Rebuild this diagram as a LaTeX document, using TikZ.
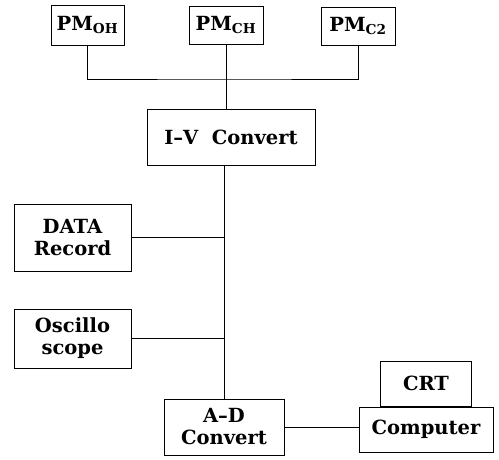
\documentclass[tikz,border=0pt]{standalone}
\usepackage{fontspec}
\setmainfont{DejaVu Serif}
\usetikzlibrary{positioning}

\tikzset{
  blk/.style={draw, line width=1pt, inner sep=0pt, align=center,
    font=\fontsize{19.5}{22}\selectfont\bfseries},
  wire/.style={line width=1pt}
}

\begin{document}
\begin{tikzpicture}[x=1pt, y=-1pt, on grid, node distance=100pt]
    \useasboundingbox (0,0) rectangle (499,459);

    \node[blk, minimum width=74pt, minimum height=38pt] (pmch) at (226,25) {PM\textsubscript{CH}};
    \node[blk, minimum width=73pt, minimum height=40pt] (pmoh) [left=138.5pt of pmch] {PM\textsubscript{OH}};
    \node[blk, minimum width=74pt, minimum height=38pt] (pmc2) [right=132pt of pmch, yshift=-1pt] {PM\textsubscript{C2}};

    \node[blk, minimum width=168pt, minimum height=56pt] (iv) at (231,137) {I--V\ \ Convert};
    \node[blk, minimum width=117pt, minimum height=67pt] (rec) at (72.5,237.5) {DATA\\Record};
    \node[blk, minimum width=117pt, minimum height=59pt] (osc) [below=101pt of rec] {Oscillo\\scope};
    \node[blk, minimum width=120pt, minimum height=56pt] (ad) at (224,427) {A--D\\Convert};
    \node[blk, minimum width=134pt, minimum height=45pt] (comp) at (426,429.5) {Computer};
    \node[blk, minimum width=91pt, minimum height=45pt, anchor=south] (crt) at (comp.north) {CRT};

    \coordinate (bus) at (226,79);

    % photomultipliers to converter
    \draw[wire] (pmoh.south) |- (bus) -| (pmc2.south);
    \draw[wire] (pmch.south) -- (pmch.south |- iv.north);

    % main trunk
    \draw[wire] (ad.north |- iv.south) -- (ad.north);
    \draw[wire] (rec.east) -- (rec.east -| ad.north);
    \draw[wire] (osc.east) -- (osc.east -| ad.north);
    \draw[wire] (ad.east) -- (ad.east -| comp.west);
\end{tikzpicture}
\end{document}
